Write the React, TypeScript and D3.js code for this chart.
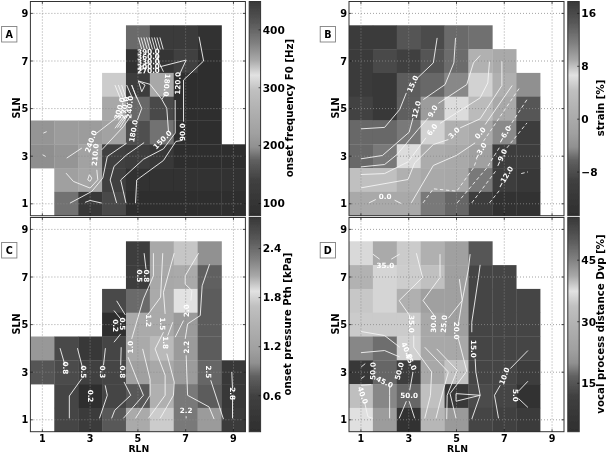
import React from "react";
import * as d3 from "d3";

type Cell = number | null;
type Pt = [number, number];
type Label = [number, number, number, string];

const _ = null;
const axisTicks = [1, 3, 5, 7, 9];

// grey map shared by all four panels: dark, light near 2/3, dark again
const cmapPos = [0, 0.164, 0.258, 0.32, 0.383, 0.49, 0.586, 0.656, 0.727, 0.805, 0.9, 1];
const cmapGrey = ["#2e2e2e", "#404040", "#606060", "#909090", "#a0a0a0", "#b0b0b0", "#c0c0c0", "#e2e2e2", "#a8a8a8", "#808080", "#585858", "#383838"];

// cells, SLN 8 down to SLN 1, RLN 1..9
const f0Cells: Cell[][] = [
  [_, _, _, _, 395, 120, 120, 85, _],
  [_, _, _, _, 85, 105, 140, 84, _],
  [_, _, _, 305, 127, 240, 84, 82, _],
  [_, _, _, 240, 178, 150, 84, 84, _],
  [205, 215, 215, 225, 157, 183, 84, 84, _],
  [197, 205, 225, 135, 125, 115, 82, 82, 82],
  [_, 221, 235, 135, 86, 86, 86, 86, 86],
  [_, 183, 112, 148, 82, 82, 82, 82, 82],
];
const strainCells: Cell[][] = [
  [17.5, 17.5, 14.9, 15.9, 13.2, 12.8, _, _, _],
  [17.6, 16, 17, 14.9, 13, 8.6, -0.3, _, _],
  [17.6, 17.7, 14.2, 13.4, 11, 7.3, 1.3, -4.2, _],
  [16.7, 17.8, 14, 9.7, 6.9, 3.5, -0.3, -7.1, _],
  [13.4, 13.4, 12, 7.3, 1.3, -0.3, -4.5, -10.4, _],
  [13.4, 12, 6.9, 8.8, -0.3, -2.2, -10.4, -10.4, _],
  [4.4, 4.4, 1.3, -0.3, -0.5, -5.2, -10.4, -11.7, _],
  [-0.3, -0.3, -0.3, -5.2, -6, -10.4, -14, -14, _],
];
const pthCells: Cell[][] = [
  [_, _, _, _, 0.55, 1.3, 1.97, 2.18, _],
  [_, _, _, _, 0.5, 1.3, 1.33, 2.47, _],
  [_, _, _, 0.65, 0.87, 1.33, 1.88, 2.49, _],
  [_, _, _, 0.16, 1.33, 1.33, 2.13, 2.49, _],
  [1.08, 0.65, 0.4, 0.62, 1.33, 1.6, 2.13, 2.49, _],
  [0.75, 0.68, 0.59, 0.62, 1.16, 1.3, 2.13, 2.43, 2.78],
  [_, 0.62, 0.16, 0.62, 0.78, 1.44, 2.31, 2.49, 2.78],
  [_, 0.62, 0.45, 0.78, 1.33, 1.76, 2.31, 2.13, 2.76],
];
const dvpCells: Cell[][] = [
  [38, 41, 35, 28.8, 23.2, 15.2, _, _, _],
  [40.5, 38.3, 38.8, 33.8, 23.2, 12.5, 12.5, _, _],
  [39.2, 38.3, 28.8, 23.2, 23.2, 12.5, 12.5, 12.5, _],
  [35, 35, 35, 26, 23.2, 12.5, 12.5, 12.5, _],
  [44.5, 47.5, 38.5, 26, 26, 12.5, 12.5, 12.5, _],
  [55.4, 48.5, 54.8, 26, 34, 12.5, 12.5, 10, _],
  [39.7, 44.5, 48.5, 33.8, 8, 13.5, 12.5, 4, _],
  [37.6, 42.4, 4, 31, 22, 12.5, 11.8, 9, _],
];

const f0Lines: Pt[][] = [
  [[4.9, 1.03], [4.95, 2], [6.07, 2.82], [6.59, 3.62], [6.84, 3.66]],
  [[6.91, 4.45], [6.91, 6.2], [7.75, 7], [7.56, 8.02]],
  [[4.5, 1.03], [4.28, 2], [5.23, 2.87], [6.07, 3.31], [6.56, 3.97], [6.56, 5.36]],
  [[6.73, 6.41], [7.02, 7.04], [5.93, 6.76]],
  [[4.11, 1.03], [3.84, 2], [4, 2.57], [4.53, 3.06], [5.26, 3.57]],
  [[6.28, 4.03], [6.21, 5.01], [6, 5.39], [5.51, 6.02], [5.02, 6.16], [5.3, 5.99], [5.16, 5.71], [5.02, 6.16]],
  [[6, 5.39], [6.17, 5.64]],
  [[6.07, 6.55], [5.9, 6.9], [5.79, 7.25]],
  [[2.16, 1.03], [3.07, 1.52], [3.53, 2.08], [3.72, 2.99], [4.53, 3.55]],
  [[4.98, 4.52], [5.16, 5.01], [4.88, 5.64], [4.74, 5.99]],
  [[2.79, 1.06], [3, 1.14], [3.49, 1.03]],
  [[1.99, 2.29], [2.3, 1.94], [3, 1.66], [3.32, 2.01], [3.28, 2.43]],
  [[3.49, 3.27], [4.39, 4.24], [4.67, 4.66]],
  [[2.02, 2.92], [2.65, 3.34]],
  [[3.28, 3.97], [4.25, 4.73], [4.6, 5.01]],
  [[1.04, 3.97], [1.18, 4.03]],
  [[1.01, 3.06], [1.14, 2.99]],
  [[2.97, 2.22], [2.9, 2.01], [3, 1.94], [3.07, 2.08], [2.97, 2.22]],
  [[4.04, 5.99], [4.32, 5.29]],
  [[4.18, 5.99], [4.44, 5.29]],
  [[4.32, 5.99], [4.53, 5.36]],
  [[4.53, 5.99], [4.74, 5.5]],
  [[4.74, 5.99], [4.95, 5.43]],
  [[4.39, 4.66], [4.04, 4.17]],
  [[4.5, 4.7], [4.14, 4.2]],
  [[4.6, 4.75], [4.25, 4.2]],
  [[5.02, 7.99], [5.16, 7.49]],
  [[5.13, 7.99], [5.27, 7.49]],
  [[5.25, 7.99], [5.39, 7.49]],
  [[5.36, 7.99], [5.5, 7.49]],
  [[5.47, 7.99], [5.61, 7.49]],
  [[5.58, 7.99], [5.72, 7.49]],
  [[5.69, 7.99], [5.83, 7.49]],
  [[5.8, 7.99], [5.94, 7.49]],
  [[5.92, 7.99], [6.06, 7.49]],
  [[5.02, 6.69], [5.51, 6.97]],
  [[5.02, 6.55], [5.37, 6.76]],
];
const f0Labels: Label[] = [
  [3.03, 3.62, -70, "240.0"],
  [3.21, 3.06, -85, "210.0"],
  [4.23, 5.01, -75, "300.0"],
  [4.44, 5.03, -80, "270.0"],
  [4.65, 5.06, -85, "240.0"],
  [4.81, 4.06, -80, "180.0"],
  [6.03, 3.69, -45, "150.0"],
  [6.67, 6.06, -88, "120.0"],
  [6.88, 4.01, -90, "90.0"],
  [6.21, 5.99, 95, "180.0"],
  [5.44, 7.39, -2, "390.0"],
  [5.44, 7.18, -2, "360.0"],
  [5.44, 6.97, -2, "330.0"],
  [5.44, 6.76, -2, "300.0"],
  [5.44, 6.6, -2, "270.0"],
];
const strainLines: Pt[][] = [
  [[1, 4.15], [1.99, 4.21], [2.62, 4.96], [2.9, 5.66]],
  [[3.35, 6.27], [4.03, 6.92], [4.19, 7.97]],
  [[1, 2.89], [1.9, 3.03], [3.02, 4.01], [3.18, 4.61]],
  [[3.61, 5.38], [4.52, 6.01], [4.89, 6.92], [4.96, 7.97]],
  [[1, 2.55], [1.99, 2.65], [2.51, 3.07], [3.04, 3.7], [3.39, 4.12], [3.82, 4.61]],
  [[4.24, 5.22], [5.43, 6.01], [5.71, 6.92], [5.99, 7.23]],
  [[1, 2.23], [1.99, 2.27], [2.97, 2.76], [3.46, 3.42], [3.72, 3.77]],
  [[4.31, 4.38], [5.99, 5.45], [6.31, 6.08], [6.38, 6.97]],
  [[1, 1.67], [2.97, 2.02], [3.25, 2.72], [4.03, 3.49], [4.66, 3.7]],
  [[5.15, 4.19], [5.99, 4.57], [6.9, 5.97], [6.9, 6.99]],
  [[3.11, 1.04], [4.03, 2.61], [5.01, 3.04], [5.78, 3.56]],
  [[6.2, 4.33], [7.33, 5.97]],
  [[1.34, 1.04], [1.62, 1.18]],
  [[2.41, 1.15], [2.69, 1.01]],
];
const strainDashed: Pt[][] = [
  [[3.6, 1.04], [4.03, 1.63], [5.01, 1.53], [5.71, 2.51], [5.85, 2.86]],
  [[6.13, 3.63], [7.67, 5.92]],
  [[5.03, 1.04], [6.27, 2.51], [6.83, 3.42]],
  [[7.18, 4.19], [7.97, 5.41]],
  [[5.64, 1.04], [6.69, 2.44]],
  [[7.11, 3.35], [7.95, 4.4]],
  [[6.38, 1.04], [6.83, 1.6]],
  [[7.71, 2.27], [7.99, 2.34]],
];
const strainLabels: Label[] = [
  [3.16, 6.04, -65, "15.0"],
  [3.32, 4.96, -75, "12.0"],
  [4, 4.89, -60, "9.0"],
  [3.98, 4.12, -55, "6.0"],
  [4.89, 3.98, -45, "3.0"],
  [5.99, 3.98, -50, "0.0"],
  [5.99, 3.21, -60, "−3.0"],
  [7.01, 3.91, -60, "−6.0"],
  [6.87, 2.93, -65, "−9.0"],
  [7.04, 2.12, -60, "−12.0"],
  [2.01, 1.29, 0, "0.0"],
];
const pthLines: Pt[][] = [
  [[8.96, 1.06], [8.96, 2.03]],
  [[8.96, 2.31], [8.93, 3.01]],
  [[1.74, 4.01], [1.95, 3.29]],
  [[2.47, 4.01], [2.69, 3.15]],
  [[2.65, 2.73], [2.13, 2], [2.13, 1.06]],
  [[3.64, 4.01], [3.56, 3.29]],
  [[3.63, 2.45], [3.72, 2.03], [3.39, 1.06]],
  [[4.3, 4.05], [4.28, 3.29]],
  [[4.42, 2.59], [4.7, 2.03], [4.03, 1.4], [3.9, 1.06]],
  [[5.65, 8], [5.65, 7.05], [5.23, 6.08], [4.74, 4.4]],
  [[4.59, 3.63], [5, 2.59], [5.23, 2.03], [4.39, 1.06]],
  [[5.26, 8], [5.34, 7.33]],
  [[4.11, 6], [4.47, 5.41]],
  [[4, 5.59], [4.28, 5.24]],
  [[4, 4.26], [4.28, 4.61]],
  [[6.04, 8], [5.95, 6.15], [5.4, 5.4]],
  [[5.2, 3.98], [5.51, 2.7], [5.51, 2.03], [4.9, 1.06]],
  [[6.52, 8], [6.07, 6.36], [6.14, 5.45]],
  [[6.07, 4.68], [5.72, 3.98], [6.14, 2.87], [6.14, 2.03], [5.44, 1.06]],
  [[7.54, 8], [6.98, 7.05], [6.98, 6.7], [7.26, 6.43], [7.22, 6.01]],
  [[6.91, 5.17], [6.56, 4.47]],
  [[6.46, 5.1], [6.25, 4.54]],
  [[6.21, 3.78], [6.52, 2.59], [6.49, 2.03], [5.93, 1.06]],
  [[8, 7.54], [7.69, 6.63], [7.61, 5.38], [7.08, 5.03], [6.98, 4.4]],
  [[7.02, 3.71], [7.08, 2.03], [7.98, 1.54], [8.19, 1.03]],
  [[8.58, 1.03], [8.05, 2.66]],
  [[7.02, 1.15], [7.02, 1.06]],
];
const pthLabels: Label[] = [
  [5.09, 7.05, 90, "0.5"],
  [5.37, 7.05, 90, "0.8"],
  [4.07, 4.96, 90, "0.2"],
  [4.34, 5.03, 90, "0.5"],
  [4.7, 4.05, -90, "1.0"],
  [5.44, 5.17, 90, "1.2"],
  [6.04, 5.03, 90, "1.5"],
  [6.17, 4.24, 90, "1.8"],
  [7.02, 5.59, -90, "2.0"],
  [7.02, 4.05, -90, "2.2"],
  [7.98, 3.01, 90, "2.5"],
  [8.96, 2.1, 90, "2.8"],
  [1.98, 3.18, 90, "0.8"],
  [2.72, 3.01, 90, "0.5"],
  [3.53, 3.01, 90, "0.3"],
  [4.35, 3.01, 90, "0.8"],
  [3.03, 2, 90, "0.2"],
  [7.02, 1.38, 0, "2.2"],
];
const dvpLines: Pt[][] = [
  [[5.64, 1.03], [5.99, 2.03], [5.81, 3.01], [5.78, 3.57]],
  [[5.64, 4.68], [5.64, 5.1], [5.92, 6.98], [5.99, 7.51]],
  [[6.76, 1.06], [6.59, 2.03], [6.83, 2.45]],
  [[7.25, 3.15], [7.99, 3.91]],
  [[7.99, 1.52], [7.6, 1.89]],
  [[7.6, 2.21], [7.99, 2.62]],
  [[5.57, 7.96], [5.5, 7.33], [5.24, 6.01], [5.08, 5.03]],
  [[5.08, 4.4], [5.43, 3.04], [4.73, 2.1], [4.98, 1.06]],
  [[5.12, 6.91], [5.24, 6.01], [4.66, 5.27]],
  [[4.17, 3.98], [5.03, 3.08], [4.61, 2.03], [4.59, 1.03]],
  [[4.31, 7.96], [4.31, 6.98], [3.6, 6.01], [4.07, 5.38]],
  [[3.67, 4.05], [4.66, 3.01], [4.31, 1.75], [4.14, 1.06]],
  [[3.32, 8], [3.58, 6.98], [2.6, 6.01], [3.04, 5.38]],
  [[3.21, 4.54], [3.21, 4.05], [3.96, 3.01], [3.91, 2.03], [3.67, 1.06]],
  [[1.5, 7.96], [1.78, 7.75]],
  [[2.62, 7.96], [2.27, 7.75]],
  [[1, 4.71], [1.99, 4.54], [2.62, 4.05]],
  [[1, 3.82], [1.99, 3.91], [2.62, 3.64]],
  [[1, 2.45], [1.43, 2.48]],
  [[1.15, 1.75], [1.29, 1.13], [1.5, 1.06]],
  [[2.2, 2.45], [2.2, 2.03], [2.2, 1.06]],
  [[2.6, 1.06], [2.9, 1.78]],
  [[3.25, 1.06], [3.02, 1.78]],
  [[3.18, 3.01], [3.04, 2.24]],
  [[1.01, 3.22], [1.18, 3.36]],
  [[1.01, 2.73], [1.15, 2.83]],
  [[4.98, 2.1], [5.99, 2.03], [4.98, 1.78], [4.98, 2.1]],
];
const dvpLabels: Label[] = [
  [3.11, 5.03, 90, "35.0"],
  [4.03, 5.03, -90, "30.0"],
  [4.47, 5.03, -85, "25.0"],
  [5.01, 4.75, 90, "20.0"],
  [5.73, 3.98, 90, "15.0"],
  [7, 2.84, -70, "10.0"],
  [7.48, 2.03, 90, "5.0"],
  [1.5, 3.05, -88, "50.0"],
  [1.99, 2.59, 25, "45.0"],
  [1.08, 2.03, 70, "40.0"],
  [2.6, 3.05, -75, "50.0"],
  [2.93, 3.91, 65, "40.0"],
  [3.09, 3.43, 65, "45.0"],
  [3.02, 2.03, 0, "50.0"],
  [2.02, 7.5, 0, "35.0"],
];

const f0Range = [79, 449];
const strainRange = [-14.6, 17.8];
const pthRange = [0.16, 2.78];
const dvpRange = [3.2, 55.4];
const f0Ticks = [100, 200, 300, 400];
const strainTicks = [-8, 0, 8, 16];
const pthTicks = [0.6, 1.2, 1.8, 2.4];
const dvpTicks = [15, 30, 45];

const bold = { fontFamily: "DejaVu Sans", fontWeight: 700 };
const line = d3.line();

const Panel = ({ id, left, top, letter, cells, lines, dashed, labels, range, ticks, tickFmt, title, titleX, showX }: any) => {
  const x = d3.scaleLinear().domain([0.5, 9.5]).range([left, left + 215]);
  const y = d3.scaleLinear().domain([0.5, 9.5]).range([top + 214.2, top]);
  const toPath = (pts: Pt[]) => line(pts.map(([a, b]) => [x(a), y(b)] as Pt)) as string;
  const grey = d3
    .scaleLinear<string>()
    .domain(cmapPos.map((p) => range[0] + p * (range[1] - range[0])))
    .range(cmapGrey)
    .clamp(true);
  const bar = left + 218.8;
  const barY = d3.scaleLinear().domain(range).range([top + 214.2, top]);

  return (
    <g>
      <defs>
        <linearGradient id={`bar${id}`} x1="0" y1="1" x2="0" y2="0">
          {cmapPos.map((p, i) => (
            <stop key={i} offset={p} stopColor={cmapGrey[i]} />
          ))}
        </linearGradient>
      </defs>

      {cells.map((row: Cell[], r: number) =>
        row.map((v, c) =>
          v === null ? null : (
            <rect
              key={`${r}-${c}`}
              x={x(c + 0.5)}
              y={y(8.5 - r)}
              width={x(c + 1.5) - x(c + 0.5) + 0.3}
              height={y(7.5 - r) - y(8.5 - r) + 0.3}
              fill={grey(v)}
            />
          )
        )
      )}

      {/* dotted grid sits on top of the cells */}
      {axisTicks.map((t) => (
        <g key={t} stroke="#8c8c8c" strokeWidth={0.8} strokeDasharray="1,2">
          <line x1={x(t)} x2={x(t)} y1={top} y2={top + 214.2} />
          <line x1={left} x2={left + 215} y1={y(t)} y2={y(t)} />
        </g>
      ))}

      {lines.map((pts: Pt[], i: number) => (
        <path key={i} d={toPath(pts)} fill="none" stroke="#f4f4f4" strokeWidth={0.9} />
      ))}
      {(dashed || []).map((pts: Pt[], i: number) => (
        <path key={i} d={toPath(pts)} fill="none" stroke="#f4f4f4" strokeWidth={0.9} strokeDasharray="3.5,2.5" />
      ))}
      {labels.map(([a, b, rot, txt]: Label, i: number) => (
        <text
          key={i}
          transform={`translate(${x(a)},${y(b)}) rotate(${rot})`}
          textAnchor="middle"
          dy="0.36em"
          fontSize={7.2}
          fill="#ffffff"
          {...bold}
        >
          {txt}
        </text>
      ))}

      <rect x={left} y={top} width={215} height={214.2} fill="none" stroke="#333333" strokeWidth={1} />
      {axisTicks.map((t) => (
        <g key={t} stroke="#111111" strokeWidth={0.7}>
          <line x1={x(t)} x2={x(t)} y1={top} y2={top + 2.5} />
          <line x1={x(t)} x2={x(t)} y1={top + 214.2} y2={top + 211.7} />
          <line x1={left} x2={left + 2.5} y1={y(t)} y2={y(t)} />
          <line x1={left + 215} x2={left + 212.5} y1={y(t)} y2={y(t)} />
        </g>
      ))}
      {axisTicks.map((t) => (
        <text key={t} x={left - 2} y={y(t)} dy="0.36em" textAnchor="end" fontSize={9.8} fill="#000" {...bold}>
          {t}
        </text>
      ))}
      {showX &&
        axisTicks.map((t) => (
          <text key={t} x={x(t)} y={top + 224} textAnchor="middle" fontSize={9.6} fill="#000" {...bold}>
            {t}
          </text>
        ))}
      {showX && (
        <text x={left + 108.5} y={top + 234.5} textAnchor="middle" fontSize={9.3} fill="#000" {...bold}>
          RLN
        </text>
      )}
      <text
        transform={`translate(${left - 10.5},${top + 106.5}) rotate(-90)`}
        textAnchor="middle"
        fontSize={9.6}
        fill="#000"
        {...bold}
      >
        SLN
      </text>

      {/* panel letter */}
      <rect x={left - 28.8} y={top + 25} width={15.3} height={15.5} fill="#fff" stroke="#808080" strokeWidth={0.9} />
      <text x={left - 21.2} y={top + 36.5} textAnchor="middle" fontSize={9.6} fill="#000" {...bold}>
        {letter}
      </text>

      {/* colourbar */}
      <rect x={bar} y={top} width={11.4} height={214.2} fill={`url(#bar${id})`} stroke="#333333" strokeWidth={1} />
      {ticks.map((t: number) => (
        <g key={t}>
          <line x1={bar + 9.4} x2={bar + 11.4} y1={barY(t)} y2={barY(t)} stroke="#111" strokeWidth={0.7} />
          <text x={bar + 13.5} y={barY(t)} dy="0.36em" fontSize={10.6} fill="#000" {...bold}>
            {tickFmt(t)}
          </text>
        </g>
      ))}
      <text
        transform={`translate(${titleX},${top + 106.5}) rotate(-90)`}
        textAnchor="middle"
        fontSize={10.2}
        fill="#000"
        {...bold}
      >
        {title}
      </text>
    </g>
  );
};

export default function App() {
  const plain = (t: number) => String(t).replace("-", "−");
  return (
    <svg width={607} height={453} style={{ position: "absolute", left: 0, top: 0, display: "block", background: "#fff" }}>
      <defs>
        <filter id="soft" filterUnits="userSpaceOnUse" x={0} y={0} width={607} height={453}>
          <feGaussianBlur stdDeviation={0.5} />
        </filter>
      </defs>
      <g filter="url(#soft)">
        <Panel id="a" left={30.4} top={1.5} letter="A" cells={f0Cells} lines={f0Lines} labels={f0Labels} range={f0Range}
          ticks={f0Ticks} tickFmt={plain} title="onset frequency F0 [Hz]" titleX={292.5} />
        <Panel id="b" left={349} top={1.5} letter="B" cells={strainCells} lines={strainLines} dashed={strainDashed}
          labels={strainLabels} range={strainRange} ticks={strainTicks} tickFmt={plain} title="strain [%]" titleX={603.5} />
        <Panel id="c" left={30.4} top={217.5} letter="C" cells={pthCells} lines={pthLines} labels={pthLabels} range={pthRange}
          ticks={pthTicks} tickFmt={plain} title="onset pressure Pth [kPa]" titleX={290.5} showX />
        <Panel id="d" left={349} top={217.5} letter="D" cells={dvpCells} lines={dvpLines} labels={dvpLabels} range={dvpRange}
          ticks={dvpTicks} tickFmt={plain} title="vocal process distance Dvp [%]" titleX={603.5} showX />
      </g>
    </svg>
  );
}
